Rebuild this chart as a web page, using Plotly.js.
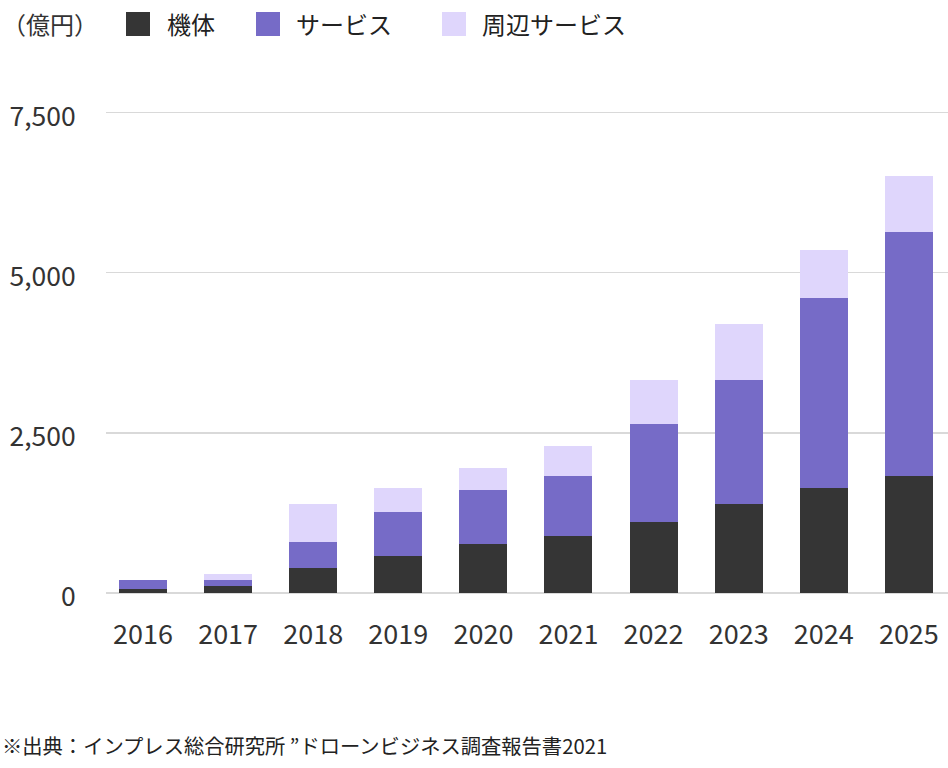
<!DOCTYPE html>
<html>
<head>
<meta charset="utf-8">
<script src="https://cdn.plot.ly/plotly-3.0.1.min.js"></script>
<style>
html,body{margin:0;padding:0;background:#fff;}
#chart{width:948px;height:768px;}
</style>
</head>
<body>
<div id="chart"></div>
<script>
// Data (億円)
const years = ["2016","2017","2018","2019","2020","2021","2022","2023","2024","2025"];
const kitai = [70, 105, 386, 573, 761, 886, 1105, 1386, 1636, 1823];
const service = [130, 93, 406, 688, 844, 937, 1531, 1937, 2969, 3813];
const peripheral = [0, 94, 594, 375, 343, 469, 687, 875, 750, 875];
const seriesNames = ["機体", "サービス", "周辺サービス"];
const unitLabel = "（億円）";
const sourceNote = "※出典：インプレス総合研究所 ”ドローンビジネス調査報告書2021";
const yTickVals = [0, 2500, 5000, 7500];

const colors = ["#353535", "#766bc7", "#dfd6fc"];
const FONT = '"Noto Sans CJK JP", "Noto Sans", sans-serif';

const W = 948, H = 768;
const mL = 106, mR = 0, mT = 111, mB = 175;
const pw = W - mL - mR, ph = H - mT - mB;
const px = x => (x - mL) / pw;
const py = y => (H - mB - y) / ph;

const vals = [kitai, service, peripheral];
const traces = vals.map((v, i) => ({
  type: "bar",
  x: years,
  y: v,
  name: seriesNames[i],
  marker: {color: colors[i], line: {width: 0}},
  hoverinfo: "x+y+name"
}));

// custom legend
const legendPos = [
  {sq: 126, tx: 165},
  {sq: 256, tx: 294},
  {sq: 442, tx: 480}
];
const shapes = [];
const annotations = [];
annotations.push({
  xref: "paper", yref: "paper", x: px(0), y: py(24),
  xanchor: "left", yanchor: "middle", showarrow: false,
  text: unitLabel, font: {family: FONT, size: 24, color: "#333"}
});
legendPos.forEach((p, i) => {
  shapes.push({
    type: "rect", xref: "paper", yref: "paper",
    x0: px(p.sq), x1: px(p.sq + 24), y0: py(36), y1: py(12),
    fillcolor: colors[i], line: {width: 0}
  });
  annotations.push({
    xref: "paper", yref: "paper", x: px(p.tx), y: py(24),
    xanchor: "left", yanchor: "middle", showarrow: false,
    text: seriesNames[i], font: {family: FONT, size: 24, color: "#222"}
  });
});
annotations.push({
  xref: "paper", yref: "paper", x: px(0), y: py(745),
  xanchor: "left", yanchor: "middle", showarrow: false,
  text: sourceNote, font: {family: FONT, size: 20.3, color: "#222"}
});

const layout = {
  width: W, height: H,
  margin: {l: mL, r: mR, t: mT, b: mB, pad: 0},
  paper_bgcolor: "#fff", plot_bgcolor: "#fff",
  barmode: "stack",
  bargap: 0.436,
  showlegend: false,
  font: {family: FONT, color: "#333"},
  xaxis: {
    type: "category",
    range: [-0.435, 9.46],
    showgrid: false, zeroline: false, showline: false,
    ticks: "outside", ticklen: 18, tickcolor: "rgba(0,0,0,0)",
    tickfont: {family: FONT, size: 27, color: "#333"},
    fixedrange: true
  },
  yaxis: {
    range: [0, 7520],
    tickvals: yTickVals,
    tickformat: ",d",
    showgrid: true, gridcolor: "#d9d9d9", gridwidth: 1.5,
    zeroline: true, zerolinecolor: "#d9d9d9", zerolinewidth: 1.5,
    showline: false,
    ticks: "outside", ticklen: 24, tickcolor: "rgba(0,0,0,0)",
    tickfont: {family: FONT, size: 26.5, color: "#333"},
    ticklabelshift: 4,
    fixedrange: true
  },
  shapes: shapes,
  annotations: annotations
};

Plotly.newPlot("chart", traces, layout, {displayModeBar: false, staticPlot: true});
</script>
</body>
</html>
